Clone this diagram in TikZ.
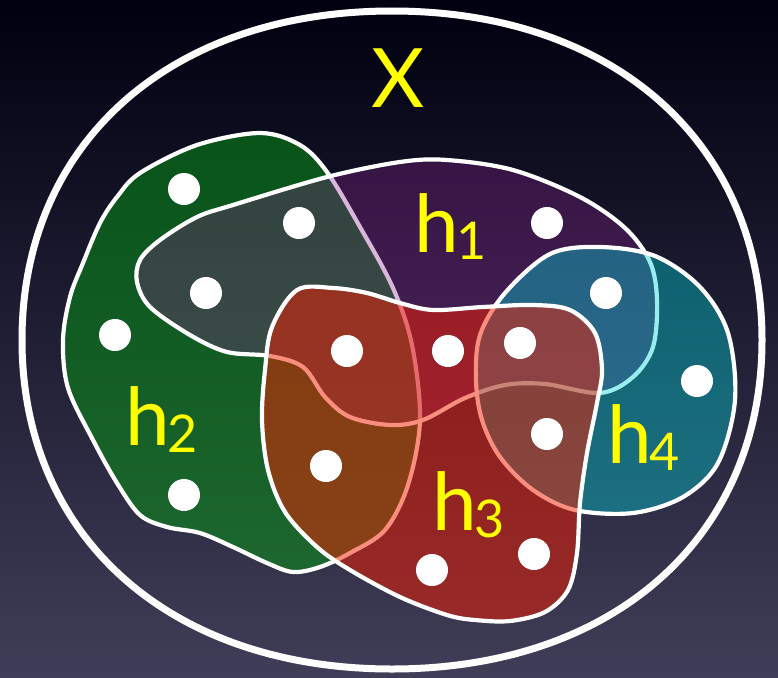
\documentclass[tikz,border=0pt]{standalone}
\usepackage{fontspec}
\setmainfont{Lato}
\definecolor{bgtop}{RGB}{0,0,16}
\definecolor{bgmid}{RGB}{17,17,52}
\definecolor{bgbot}{RGB}{64,61,88}
\definecolor{hgreen}{RGB}{5,155,20}
\definecolor{hpurple}{RGB}{139,34,144}
\definecolor{hteal}{RGB}{0,210,215}
\definecolor{hred}{RGB}{245,30,0}
\definecolor{labyellow}{RGB}{255,255,0}
\tikzset{
  blob/.style={draw=white, line width=4.2pt, line join=round},
  dot/.style={circle, fill=white, draw=none, minimum size=32pt, inner sep=0pt},
  lab/.style={text=labyellow, inner sep=0pt, anchor=base west},
}
\newcommand{\hlab}[1]{\fontsize{80}{80}\selectfont h\kern-2pt\raisebox{-7pt}{\fontsize{52}{52}\selectfont #1}}
\begin{document}
\begin{tikzpicture}[x=1pt,y=-1pt]
\useasboundingbox (0,0) rectangle (778,677);
\shade[top color=bgtop, middle color=bgmid, bottom color=bgbot] (0,0) rectangle (778,677);
% outer set X
\draw[white, line width=7pt] (22,340) .. controls (22,143) and (170,11) .. (392,11)
  .. controls (614,11) and (762,143) .. (762,340)
  .. controls (762,537) and (614,669) .. (392,669)
  .. controls (170,669) and (22,537) .. (22,340) -- cycle;
% h2 (green)
\filldraw[blob, fill=hgreen, fill opacity=0.5] plot[smooth cycle, tension=0.55] coordinates {
  (260,133) (300,145) (327,172) (360,227) (393,288) (412,345) (420,420) (408,485)
  (385,530) (350,553) (320,567) (293,572) (267,563) (233,547) (200,533) (167,527)
  (140,515) (117,483) (93,440) (68,388) (63,340) (70,297) (83,263) (100,223)
  (117,197) (140,173) (197,145)};
% h1 (purple)
\filldraw[blob, fill=hpurple, fill opacity=0.32] plot[smooth cycle, tension=0.55] coordinates {
  (137,282) (150,307) (190,335) (227,352) (270,356) (303,367) (325,397) (350,417)
  (390,425) (423,420) (465,398) (505,385) (545,384) (600,393) (633,377) (653,347)
  (657,300) (650,262) (625,228) (580,197) (513,170) (447,160) (400,162) (327,177)
  (233,205) (197,217) (160,240) (140,260)};
% h4 (teal)
\filldraw[blob, fill=hteal, fill opacity=0.4] plot[smooth cycle, tension=0.55] coordinates {
  (600,247) (550,254) (505,293) (480,335) (476,380) (482,420) (500,457) (533,490)
  (575,510) (633,513) (683,497) (718,463) (735,400) (728,333) (700,287) (655,256)};
% h3 (red)
\filldraw[blob, fill=hred, fill opacity=0.5] plot[smooth cycle, tension=0.55] coordinates {
  (297,290) (333,288) (367,293) (400,303) (433,310) (483,307) (533,305) (570,310)
  (595,333) (602,370) (597,403) (587,453) (580,503) (577,553) (568,590) (545,612)
  (510,621) (475,620) (447,615) (400,597) (350,570) (317,547) (285,512) (268,470)
  (262,420) (265,370) (272,327)};
% points
\node[dot] (p1) at (184,189) {};
\node[dot] (p2) at (299,223) {};
\node[dot] (p3) at (206,293) {};
\node[dot] (p4) at (115,335) {};
\node[dot] (p5) at (184,495) {};
\node[dot] (p6) at (347,351) {};
\node[dot] (p7) at (448,351) {};
\node[dot] (p8) at (520,343) {};
\node[dot] (p9) at (606,293) {};
\node[dot] (p10) at (547,223) {};
\node[dot] (p11) at (697,381) {};
\node[dot] (p12) at (547,434) {};
\node[dot] (p13) at (326,466) {};
\node[dot] (p14) at (432,570) {};
\node[dot] (p15) at (534,554) {};
% labels
\node[text=labyellow, inner sep=0pt, anchor=base] (X) at (398,107) {\fontsize{82}{82}\selectfont X};
\node[lab] (l1) at (414,252) {\hlab{1}};
\node[lab] (l2) at (125,445) {\hlab{2}};
\node[lab] (l3) at (432,530) {\hlab{3}};
\node[lab] (l4) at (607,463) {\hlab{4}};
\end{tikzpicture}
\end{document}
